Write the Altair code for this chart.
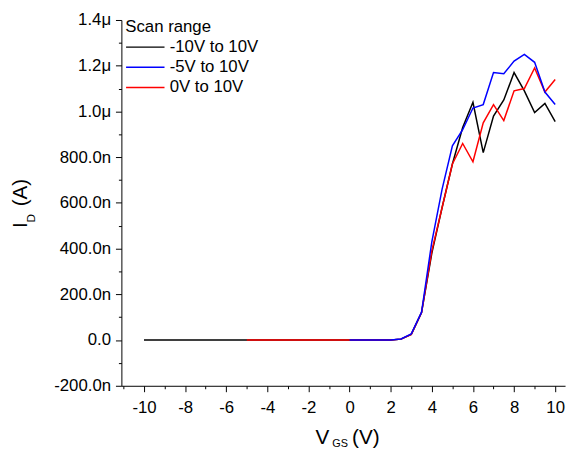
import altair as alt
import pandas as pd

# ---- data (currents in µA) ----
v_black = [-10.0, -9.5, -9.0, -8.5, -8.0, -7.5, -7.0, -6.5, -6.0, -5.5, -5.0, -4.5, -4.0, -3.5,
           -3.0, -2.5, -2.0, -1.5, -1.0, -0.5, 0.0, 0.5, 1.0, 1.5, 2.0, 2.5, 3.0, 3.5, 4.0, 4.5,
           5.0, 5.5, 6.0, 6.5, 7.0, 7.5, 8.0, 8.5, 9.0, 9.5, 10.0]
i_black = [0.0, 0.0, 0.0, 0.0, 0.0, 0.0, 0.0, 0.0, 0.0, 0.0, 0.0, 0.0, 0.0, 0.0,
           0.0, 0.0, 0.0, 0.0, 0.0, 0.0, 0.0, 0.0, 0.0, 0.0, 0.0, 0.004, 0.025, 0.12, 0.38, 0.58,
           0.77, 0.93, 1.04, 0.82, 0.98, 1.05, 1.17, 1.09, 0.995, 1.035, 0.955]

v_red = [-5.0, -4.5, -4.0, -3.5, -3.0, -2.5, -2.0, -1.5, -1.0, -0.5, 0.0, 0.5, 1.0, 1.5, 2.0,
         2.5, 3.0, 3.5, 4.0, 4.5, 5.0, 5.5, 6.0, 6.5, 7.0, 7.5, 8.0, 8.5, 9.0, 9.5, 10.0]
i_red = [0.0, 0.0, 0.0, 0.0, 0.0, 0.0, 0.0, 0.0, 0.0, 0.0, 0.0, 0.0, 0.0, 0.0, 0.0,
         0.004, 0.025, 0.12, 0.39, 0.58, 0.77, 0.86, 0.78, 0.95, 1.03, 0.96, 1.09, 1.10, 1.19, 1.085, 1.14]

v_blue = [0.0, 0.5, 1.0, 1.5, 2.0, 2.5, 3.0, 3.5, 4.0, 4.5, 5.0, 5.5, 6.0, 6.5, 7.0, 7.5, 8.0,
          8.5, 9.0, 9.5, 10.0]
i_blue = [0.0, 0.0, 0.0, 0.0, 0.0, 0.005, 0.027, 0.122, 0.43, 0.66, 0.85, 0.92, 1.015, 1.03,
          1.17, 1.165, 1.22, 1.25, 1.215, 1.085, 1.03]

series_names = ["-10V to 10V", "-5V to 10V", "0V to 10V"]
series_colors = ["#000000", "#0000FF", "#FF0000"]

x_ticks = [-11, -10, -9, -8, -7, -6, -5, -4, -3, -2, -1, 0, 1, 2, 3, 4, 5, 6, 7, 8, 9, 10]
y_ticks = [-0.2, -0.1, 0.0, 0.1, 0.2, 0.3, 0.4, 0.5, 0.6, 0.7, 0.8, 0.9, 1.0, 1.1, 1.2, 1.3, 1.4]

FONT = "Liberation Sans"

df_black = pd.DataFrame({"V": v_black, "I": i_black, "series": series_names[0]})
df_red = pd.DataFrame({"V": v_red, "I": i_red, "series": series_names[2]})
df_blue = pd.DataFrame({"V": v_blue, "I": i_blue, "series": series_names[1]})

x_enc = alt.X("V:Q",
              scale=alt.Scale(domain=[-11.1, 10.48], nice=False, zero=False),
              axis=alt.Axis(values=x_ticks, title=None, grid=False,
                            labelExpr="abs(round(datum.value)) % 2 == 1 ? '' : (datum.value < 0 ? '-' : '') + abs(datum.value)",
                            tickSize={"condition": {"test": "abs(round(datum.value)) % 2 == 1", "value": 3}, "value": 6},
                            labelOverlap=False, labelPadding=8, labelFlush=False))
y_enc = alt.Y("I:Q",
              scale=alt.Scale(domain=[-0.2, 1.4], nice=False, zero=False),
              axis=alt.Axis(values=y_ticks, title=None, grid=False,
                            labelExpr="abs(round(datum.value*10)) % 2 == 1 ? '' : (abs(datum.value) < 1e-9 ? '0.0' : (datum.value > 0.999 ? format(datum.value, '.1f') + 'μ' : (datum.value < 0 ? '-' : '') + format(abs(datum.value) * 1000, '.1f') + 'n'))",
                            tickSize={"condition": {"test": "abs(round(datum.value*10)) % 2 == 1", "value": 3}, "value": 6},
                            labelOverlap=False, labelPadding=5, labelFlush=False))
color_enc = alt.Color("series:N",
                      scale=alt.Scale(domain=series_names, range=series_colors),
                      legend=alt.Legend(title="Scan range", orient="none", legendX=4, legendY=-1,
                                        symbolType="M-1,0H3", symbolSize=380, symbolStrokeWidth=1.5,
                                        labelOffset=24, rowPadding=1.5, titlePadding=1,
                                        labelFontSize=17, titleFontSize=17, titleFontWeight="normal",
                                        labelFont=FONT, titleFont=FONT, labelColor="black", titleColor="black"))

def line(df):
    return alt.Chart(df).mark_line(strokeWidth=1.5).encode(x=x_enc, y=y_enc, color=color_enc)

def txt(s, x, y, size, angle=0, align="left"):
    return alt.Chart(pd.DataFrame({"t": [s]})).mark_text(
        text=s, font=FONT, fontSize=size, color="black", angle=angle, align=align, baseline="alphabetic"
    ).encode(x=alt.value(x), y=alt.value(y))

chart = alt.layer(
    line(df_black), line(df_red), line(df_blue),
    txt("V", 197, 430, 21), txt("GS", 214, 433, 11), txt("(V)", 234, 430, 21),
    txt("I", -96, 208, 21, angle=270, align="center"),
    txt("D", -88, 201, 12, angle=270, align="center"),
    txt("(A)", -96, 175, 21, angle=270, align="center"),
).properties(
    width=450, height=371,
    autosize=alt.AutoSizeParams(type="none"),
    padding={"left": 115, "top": 9, "right": 4, "bottom": 65},
).configure_view(stroke=None).configure_axis(
    domainColor="black", tickColor="black", labelColor="black", labelFont=FONT, labelFontSize=17,
    domainWidth=1, tickWidth=1
)

chart.save("out.html", embed_options={"renderer": "svg", "actions": False})
